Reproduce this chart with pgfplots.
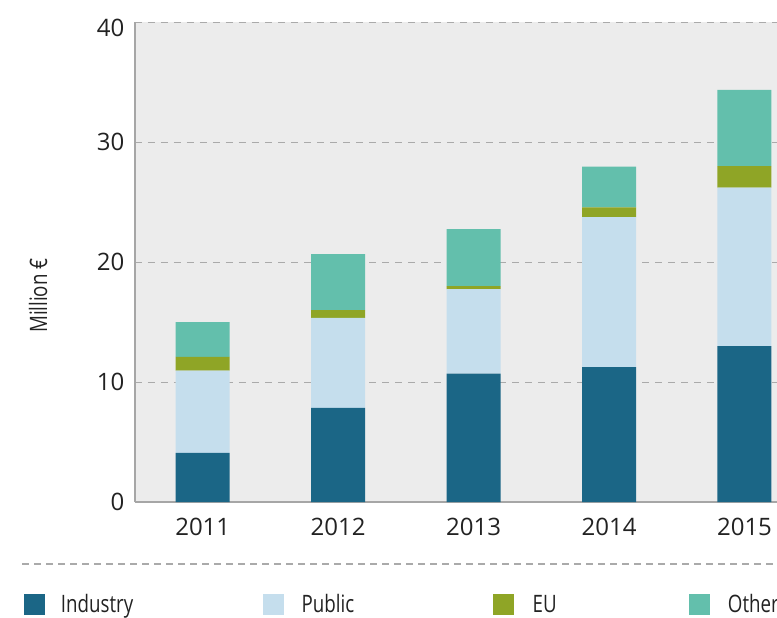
\documentclass[border=0pt]{standalone}
\usepackage{fontspec}
\setmainfont{Open Sans}
\newfontfamily\condfont{Open Sans}[FakeStretch=0.78]
\usepackage{pgfplots}
\pgfplotsset{compat=1.18}
\definecolor{cInd}{RGB}{27,102,134}
\definecolor{cPub}{RGB}{197,222,237}
\definecolor{cEU}{RGB}{143,165,38}
\definecolor{cOth}{RGB}{99,191,172}
\definecolor{bggray}{RGB}{236,236,236}
\definecolor{axgray}{RGB}{166,166,166}
\definecolor{gridgray}{RGB}{170,170,170}
\definecolor{txt}{RGB}{34,34,34}
\begin{document}
\begin{tikzpicture}
\begin{axis}[
  at={(135pt,-502pt)}, anchor=south west,
  scale only axis, width=642pt, height=480pt,
  xmin=-0.5, xmax=4.24, ymin=0, ymax=40,
  ybar stacked, bar width=54pt,
  axis x line*=bottom, axis y line*=left,
  axis line style={draw=axgray, line width=1.5pt},
  axis background/.style={fill=bggray},
  major tick length=0pt,
  xtick={0,1,2,3,4}, xticklabels={2011,2012,2013,2014,2015},
  ytick={0,10,20,30,40}, yticklabels={0,10,20,30,\raisebox{-6pt}[\height][0pt]{40}},
  xticklabel style={font=\fontsize{24}{28}\selectfont, text=txt, inner sep=0pt, yshift=-15.5pt},
  yticklabel style={font=\fontsize{24}{28}\selectfont, text=txt, inner sep=0pt, xshift=-10.5pt},
  ymajorgrids,
  major grid style={draw=gridgray, line width=1pt, dash pattern=on 7pt off 6pt},
  ylabel={Million €},
  ylabel style={at={(axis description cs:-0.151,0.43)}, anchor=center, font=\condfont\fontsize{24}{28}\selectfont, text=txt},
  legend columns=4,
  legend cell align=left,
  legend image code/.code={\fill[#1] (0pt,-10.5pt) rectangle (21pt,10.5pt);},
  legend style={at={(axis description cs:-0.1729,-0.2135)}, anchor=west, draw=none, fill=none,
    inner sep=0pt, outer sep=0pt, nodes={inner sep=0pt}, text=txt,
    font=\condfont\fontsize{24}{28}\selectfont,
    /tikz/every odd column/.append style={column sep=16pt},
    /tikz/every even column/.append style={column sep=0pt}},
]
\addplot[fill=cInd, draw=none] coordinates {(0,4.1) (1,7.85) (2,10.7) (3,11.25) (4,13.0)};
\addlegendentry{\makebox[201.7pt][l]{Industry}}
\addplot[fill=cPub, draw=none] coordinates {(0,6.85) (1,7.5) (2,7.05) (3,12.5) (4,13.2)};
\addlegendentry{\makebox[193pt][l]{\hspace{2pt}Public}}
\addplot[fill=cEU, draw=none] coordinates {(0,1.15) (1,0.65) (2,0.25) (3,0.8) (4,1.8)};
\addlegendentry{\makebox[159.3pt][l]{\hspace{3pt}EU}}
\addplot[fill=cOth, draw=none] coordinates {(0,2.9) (1,4.65) (2,4.75) (3,3.4) (4,6.35)};
\addlegendentry{\hspace{2pt}Other}
\end{axis}
\draw[draw=gridgray, line width=1.2pt, dash pattern=on 7pt off 5pt] (22pt,-564pt) -- (800pt,-564pt);
\pgfresetboundingbox
\path[use as bounding box] (0pt,0pt) rectangle (777pt,-618pt);
\end{tikzpicture}
\end{document}
